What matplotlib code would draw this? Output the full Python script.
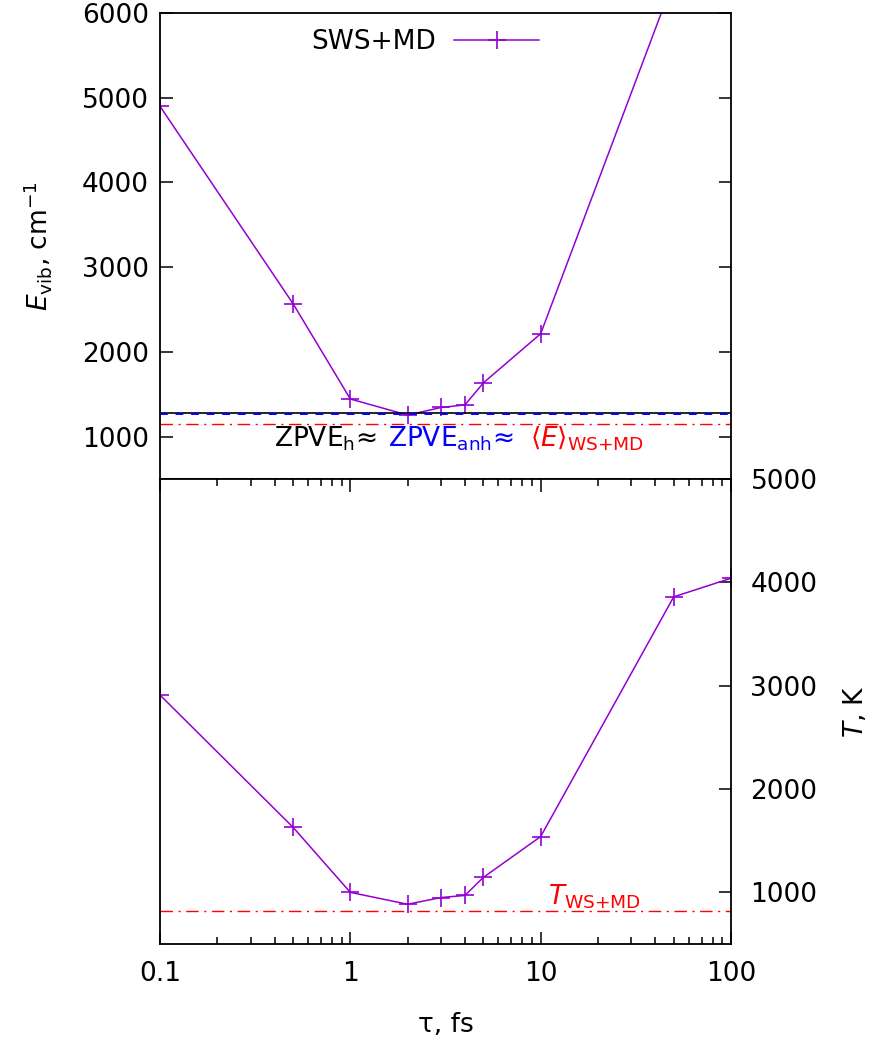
import matplotlib
matplotlib.use('Agg')
import matplotlib.pyplot as plt
from matplotlib.ticker import FixedLocator, FixedFormatter, LogLocator, NullFormatter, NullLocator

plt.rcParams['font.family'] = ['DejaVu Sans']
plt.rcParams['font.size'] = 19
plt.rcParams['mathtext.fontset'] = 'dejavusans'
plt.rcParams['xtick.direction'] = 'in'
plt.rcParams['ytick.direction'] = 'in'

tau = [0.1, 0.5, 1, 2, 3, 4, 5, 10, 50, 100]
e_vib = [4900, 2570, 1445, 1255, 1345, 1375, 1635, 2215, 6390, 6700]
temp = [2910, 1630, 1000, 885, 950, 970, 1145, 1540, 3860, 4040]

zpve_h = 1278
zpve_anh = 1270
e_wsmd = 1150
t_wsmd = 815

violet = '#9400D3'
lw = 1.1
dashdot = (0, (9, 4, 1.5, 4))

fig = plt.figure(figsize=(8.8, 10.43), dpi=100)
ax1 = fig.add_axes([0.1818, 0.5407, 0.6489, 0.4468])
ax2 = fig.add_axes([0.1818, 0.0949, 0.6489, 0.4458])

# upper panel: vibrational energy
ax1.plot(tau, e_vib, color=violet, marker='+', markersize=13, markeredgewidth=1.2,
         linewidth=lw, label='SWS+MD')
ax1.axhline(zpve_h, color='black', linewidth=1.2)
ax1.axhline(zpve_anh, color='blue', linewidth=1.4, linestyle=(0, (4, 4)))
ax1.axhline(e_wsmd, color='red', linewidth=1.0, linestyle=dashdot)
ax1.set_xscale('log')
ax1.set_xlim(0.1, 100)
ax1.set_ylim(500, 6000)
ax1.set_yticks([1000, 2000, 3000, 4000, 5000, 6000])
ax1.xaxis.set_major_locator(NullLocator())
ax1.xaxis.set_minor_locator(NullLocator())
ax1.tick_params(axis='y', which='both', left=True, right=True,
                length=9, width=1.1, pad=8)
ax1.set_ylabel(r'$E_{\mathrm{vib}}$, cm$^{-1}$', labelpad=20)

ax1.text(0.2, 880, r'ZPVE$_{\mathrm{h}}$≈', color='black', transform=ax1.get_yaxis_transform(),
         va='baseline', ha='left')
ax1.text(0.399, 880, r'ZPVE$_{\mathrm{anh}}$≈', color='blue', transform=ax1.get_yaxis_transform(),
         va='baseline', ha='left')
ax1.text(0.648, 880, r'$\langle E\rangle_{\mathrm{WS{+}MD}}$', color='red',
         transform=ax1.get_yaxis_transform(), va='baseline', ha='left')

ax1.legend(loc='center', bbox_to_anchor=(0.464, 0.938), frameon=False, markerfirst=False,
           handlelength=3.2, handletextpad=0.7)

# lower panel: temperature
ax2.plot(tau, temp, color=violet, marker='+', markersize=13, markeredgewidth=1.2,
         linewidth=lw)
ax2.axhline(t_wsmd, color='red', linewidth=1.0, linestyle=dashdot)
ax2.set_xscale('log')
ax2.set_xlim(0.1, 100)
ax2.set_ylim(500, 5000)
ax2.set_yticks([1000, 2000, 3000, 4000, 5000])
ax2.yaxis.tick_right()
ax2.yaxis.set_label_position('right')
ax2.tick_params(axis='y', which='both', left=False, right=True,
                length=9, width=1.1, pad=14)
ax2.set_ylabel(r'$T$, K', labelpad=18)
ax2.text(0.68, 884, r'$T_{\mathrm{WS{+}MD}}$', color='red', transform=ax2.get_yaxis_transform(),
         va='baseline', ha='left')

ax2.xaxis.set_major_locator(FixedLocator([0.1, 1, 10, 100]))
ax2.xaxis.set_major_formatter(FixedFormatter(['0.1', '1', '10', '100']))
ax2.xaxis.set_minor_locator(LogLocator(base=10, subs=range(2, 10)))
ax2.xaxis.set_minor_formatter(NullFormatter())
ax2.tick_params(axis='x', which='major', bottom=True, top=True,
                length=9, width=1.1, pad=12)
ax2.tick_params(axis='x', which='minor', bottom=True, top=True,
                length=5, width=1.1)
ax2.set_xlabel('τ, fs', labelpad=18)

for ax in (ax1, ax2):
    for s in ax.spines.values():
        s.set_linewidth(1.3)

fig.savefig('out.png', dpi=100)
